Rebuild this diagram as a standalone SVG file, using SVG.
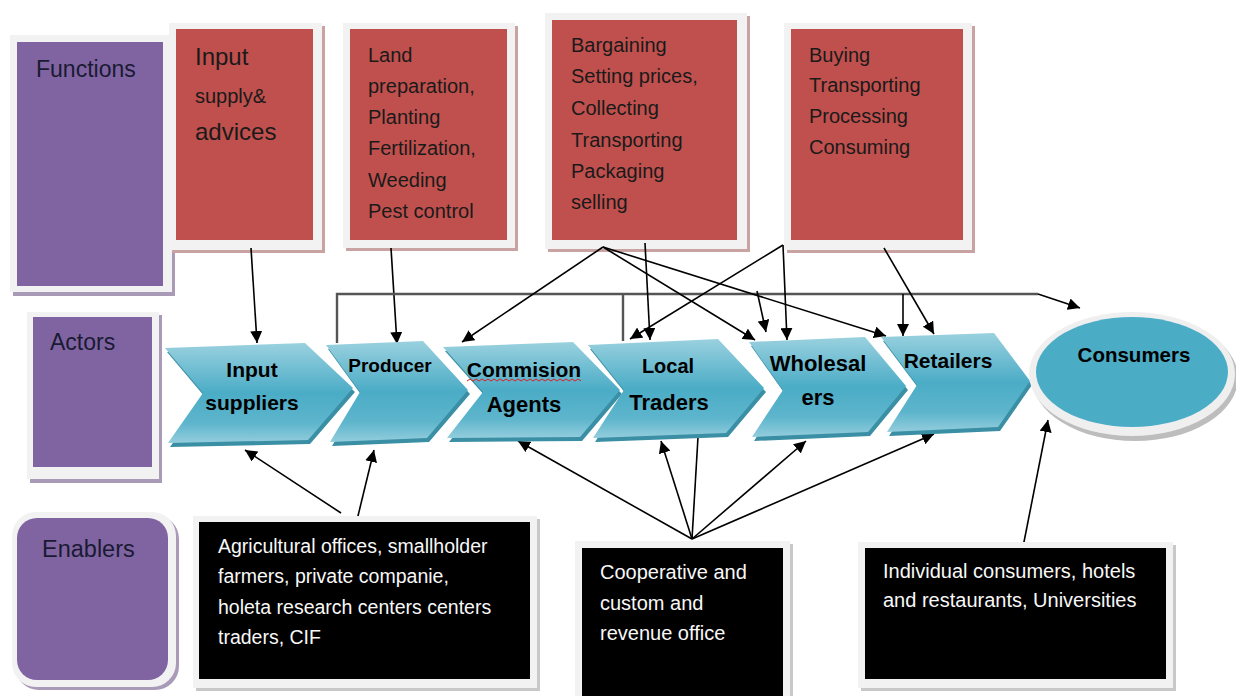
<svg xmlns="http://www.w3.org/2000/svg" width="1236" height="696" viewBox="0 0 1236 696">
<defs>
<linearGradient id="chev" x1="0" y1="0" x2="0" y2="1">
<stop offset="0" stop-color="#9AD1DF"/>
<stop offset="0.5" stop-color="#4BACC6"/>
<stop offset="0.8" stop-color="#5DB5CC"/>
<stop offset="1" stop-color="#93CDDD"/>
</linearGradient>
<marker id="ah" viewBox="0 0 10 10" refX="10" refY="5" markerWidth="12" markerHeight="12" markerUnits="userSpaceOnUse" orient="auto">
<path d="M0,0 L10,5 L0,10 Z" fill="#000"/>
</marker>
<style>
.frame{fill:#F2F2F2;}
.shadowP{fill:#A99BB8;}
.shadowR{fill:#C9A3A2;}
.shadowK{fill:#C8C8C8;}
.purple{fill:#8064A2;}
.red{fill:#C0504D;}
.black{fill:#000;}
.lbl{font-family:"Liberation Sans",Arial,sans-serif;fill:#1A1A33;}
.rtx{font-family:"Liberation Sans",Arial,sans-serif;fill:#1A1A1A;}
.wtx{font-family:"Liberation Sans",Arial,sans-serif;fill:#F8F8F8;}
.ctx{font-family:"Liberation Sans",Arial,sans-serif;font-weight:bold;fill:#000;text-anchor:middle;}
.chev{fill:url(#chev);}
.chs{fill:#3A8FA5;}
.ln{stroke:#000;stroke-width:1.6;fill:none;}
.la{stroke:#000;stroke-width:1.6;fill:none;marker-end:url(#ah);}
.br{stroke:#555;stroke-width:2.4;fill:none;}
</style>
</defs>
<rect width="1236" height="696" fill="#fff"/>

<!-- Category boxes -->
<g id="functions">
<rect x="13" y="38" width="162" height="258" class="shadowP"/>
<rect x="10" y="35" width="162" height="257" class="frame"/>
<rect x="17" y="42" width="146" height="244" class="purple"/>
<text x="36" y="77" class="lbl" font-size="23">Functions</text>
</g>
<g id="actors">
<rect x="30" y="315" width="132" height="168" class="shadowP"/>
<rect x="27" y="312" width="132" height="167" class="frame"/>
<rect x="33" y="317" width="119" height="150" class="purple"/>
<text x="50" y="350" class="lbl" font-size="23">Actors</text>
</g>
<g id="enablers">
<rect x="15" y="515" width="164" height="175" rx="24" class="shadowP"/>
<rect x="12" y="512" width="164" height="175" rx="24" class="frame"/>
<rect x="17" y="518" width="151" height="162" rx="20" class="purple"/>
<text x="42" y="557" class="lbl" font-size="23.5">Enablers</text>
</g>

<!-- Function boxes -->
<g id="fn-input">
<rect x="172" y="26" width="153" height="227" class="shadowR"/>
<rect x="169" y="23" width="153" height="227" class="frame"/>
<rect x="176" y="29" width="137" height="211" class="red"/>
<text x="195" y="65" class="rtx" font-size="24">Input</text>
<text x="195" y="103" class="rtx" font-size="20">supply&amp;</text>
<text x="195" y="140" class="rtx" font-size="24">advices</text>
</g>
<g id="fn-producer">
<rect x="346" y="26" width="172" height="225" class="shadowR"/>
<rect x="343" y="23" width="172" height="225" class="frame"/>
<rect x="350" y="29" width="157" height="211" class="red"/>
<text class="rtx" font-size="20">
<tspan x="368" y="62">Land</tspan>
<tspan x="368" y="93">preparation,</tspan>
<tspan x="368" y="124">Planting</tspan>
<tspan x="368" y="155">Fertilization,</tspan>
<tspan x="368" y="187">Weeding</tspan>
<tspan x="368" y="218">Pest control</tspan>
</text>
</g>
<g id="fn-trader">
<rect x="548" y="16" width="202" height="236" class="shadowR"/>
<rect x="545" y="13" width="202" height="236" class="frame"/>
<rect x="552" y="20" width="185" height="220" class="red"/>
<text class="rtx" font-size="20">
<tspan x="571" y="52">Bargaining</tspan>
<tspan x="571" y="83">Setting prices,</tspan>
<tspan x="571" y="115">Collecting</tspan>
<tspan x="571" y="147">Transporting</tspan>
<tspan x="571" y="178">Packaging</tspan>
<tspan x="571" y="209">selling</tspan>
</text>
</g>
<g id="fn-consumer">
<rect x="787" y="26" width="188" height="227" class="shadowR"/>
<rect x="784" y="23" width="188" height="227" class="frame"/>
<rect x="791" y="29" width="172" height="211" class="red"/>
<text class="rtx" font-size="20">
<tspan x="809" y="62">Buying</tspan>
<tspan x="809" y="92">Transporting</tspan>
<tspan x="809" y="123">Processing</tspan>
<tspan x="809" y="154">Consuming</tspan>
</text>
</g>

<!-- Connectors -->
<g id="connectors">
<line x1="251" y1="248" x2="257" y2="343" class="la"/>
<line x1="391" y1="248" x2="397" y2="344" class="la"/>
<polyline points="337,343 337,294 1038,294" class="br"/>
<line x1="623" y1="294" x2="623" y2="341" class="br"/>
<line x1="903" y1="294" x2="903" y2="336" class="la"/>
<line x1="757" y1="291" x2="766" y2="332" class="la"/>
<line x1="1038" y1="294" x2="1080" y2="308" class="la"/>
<line x1="603" y1="247" x2="462" y2="342" class="la"/>
<line x1="603" y1="247" x2="755" y2="340" class="la"/>
<line x1="603" y1="247" x2="886" y2="336" class="la"/>
<line x1="645" y1="243" x2="650" y2="340" class="la"/>
<line x1="783" y1="245" x2="630" y2="339" class="la"/>
<line x1="783" y1="245" x2="787" y2="340" class="la"/>
<line x1="884" y1="248" x2="934" y2="334" class="la"/>
<line x1="341" y1="513" x2="245" y2="450" class="la"/>
<line x1="357" y1="520" x2="374" y2="450" class="la"/>
<line x1="692" y1="539" x2="518" y2="441" class="la"/>
<line x1="692" y1="539" x2="661" y2="441" class="la"/>
<line x1="692" y1="539" x2="698" y2="437" class="ln"/>
<line x1="692" y1="539" x2="806" y2="441" class="la"/>
<line x1="692" y1="539" x2="934" y2="434" class="la"/>
<line x1="1023" y1="547" x2="1048" y2="420" class="la"/>
</g>

<!-- Actor chevrons -->
<g id="input-suppliers">
<path d="M165,348 L305,343 L353,388 L308,440 L168,443 L203,393 Z" class="chs" transform="translate(2,4)"/>
<path d="M165,348 L305,343 L353,388 L308,440 L168,443 L203,393 Z" class="chev"/>
<text x="252" y="377" class="ctx" font-size="21">Input</text>
<text x="252" y="410" class="ctx" font-size="21">suppliers</text>
</g>
<g id="producer">
<path d="M326,345 L423,341 L468,390 L427,438 L330,442 L360,392 Z" class="chs" transform="translate(2,4)"/>
<path d="M326,345 L423,341 L468,390 L427,438 L330,442 L360,392 Z" class="chev"/>
<text x="390" y="372" class="ctx" font-size="19">Producer</text>
</g>
<g id="commission-agents">
<path d="M443,347 L573,342 L620,390 L580,437 L447,438 L483,392 Z" class="chs" transform="translate(2,4)"/>
<path d="M443,347 L573,342 L620,390 L580,437 L447,438 L483,392 Z" class="chev"/>
<text x="524" y="377" class="ctx" font-size="21">Commision</text>
<path d="M467,381 l3,-2 l3,2 l3,-2 l3,2 l3,-2 l3,2 l3,-2 l3,2 l3,-2 l3,2 l3,-2 l3,2 l3,-2 l3,2 l3,-2 l3,2 l3,-2 l3,2 l3,-2 l3,2 l3,-2 l3,2 l3,-2 l3,2 l3,-2 l3,2 l3,-2 l3,2 l3,-2 l3,2 l3,-2 l3,2 l3,-2 l3,2 l3,-2 l3,2 l3,-2 l3,2" stroke="#E02020" stroke-width="1" fill="none"/>
<text x="524" y="412" class="ctx" font-size="22">Agents</text>
</g>
<g id="local-traders">
<path d="M588,345 L718,339 L764,388 L726,433 L593,438 L624,390 Z" class="chs" transform="translate(2,4)"/>
<path d="M588,345 L718,339 L764,388 L726,433 L593,438 L624,390 Z" class="chev"/>
<text x="668" y="373" class="ctx" font-size="20">Local</text>
<text x="669" y="410" class="ctx" font-size="22">Traders</text>
</g>
<g id="wholesalers">
<path d="M749,342 L865,337 L906,386 L868,432 L752,437 L783,390 Z" class="chs" transform="translate(2,4)"/>
<path d="M749,342 L865,337 L906,386 L868,432 L752,437 L783,390 Z" class="chev"/>
<text x="818" y="371" class="ctx" font-size="22">Wholesal</text>
<text x="818" y="405" class="ctx" font-size="22">ers</text>
</g>
<g id="retailers">
<path d="M881,337 L994,333 L1030,381 L998,427 L887,432 L917,385 Z" class="chs" transform="translate(2,4)"/>
<path d="M881,337 L994,333 L1030,381 L998,427 L887,432 L917,385 Z" class="chev"/>
<text x="948" y="368" class="ctx" font-size="21">Retailers</text>
</g>
<g id="consumers">
<ellipse cx="1135" cy="378" rx="103" ry="63" fill="#BDBDBD"/>
<ellipse cx="1132" cy="374" rx="103" ry="62" fill="#EFEFEF"/>
<ellipse cx="1132" cy="372" rx="96" ry="55" fill="#4BACC6"/>
<text x="1134" y="362" class="ctx" font-size="20.5">Consumers</text>
</g>

<!-- Enabler boxes -->
<g id="en-agri">
<rect x="196" y="519" width="344" height="172" class="shadowK"/>
<rect x="193" y="516" width="344" height="172" class="frame"/>
<rect x="199" y="522" width="331" height="157" class="black"/>
<text class="wtx" font-size="19.5">
<tspan x="218" y="553">Agricultural offices, smallholder</tspan>
<tspan x="218" y="583">farmers, private companie,</tspan>
<tspan x="218" y="614">holeta research  centers centers</tspan>
<tspan x="218" y="644">traders, CIF</tspan>
</text>
</g>
<g id="en-coop">
<rect x="578" y="544" width="215" height="160" class="shadowK"/>
<rect x="575" y="541" width="215" height="160" class="frame"/>
<rect x="582" y="548" width="201" height="150" class="black"/>
<text class="wtx" font-size="20">
<tspan x="600" y="579">Cooperative and</tspan>
<tspan x="600" y="610">custom and</tspan>
<tspan x="600" y="640">revenue office</tspan>
</text>
</g>
<g id="en-consumers">
<rect x="861" y="545" width="315" height="146" class="shadowK"/>
<rect x="858" y="542" width="315" height="146" class="frame"/>
<rect x="865" y="548" width="301" height="131" class="black"/>
<text class="wtx" font-size="20">
<tspan x="883" y="578">Individual consumers, hotels</tspan>
<tspan x="883" y="607">and restaurants, Universities</tspan>
</text>
</g>
</svg>
